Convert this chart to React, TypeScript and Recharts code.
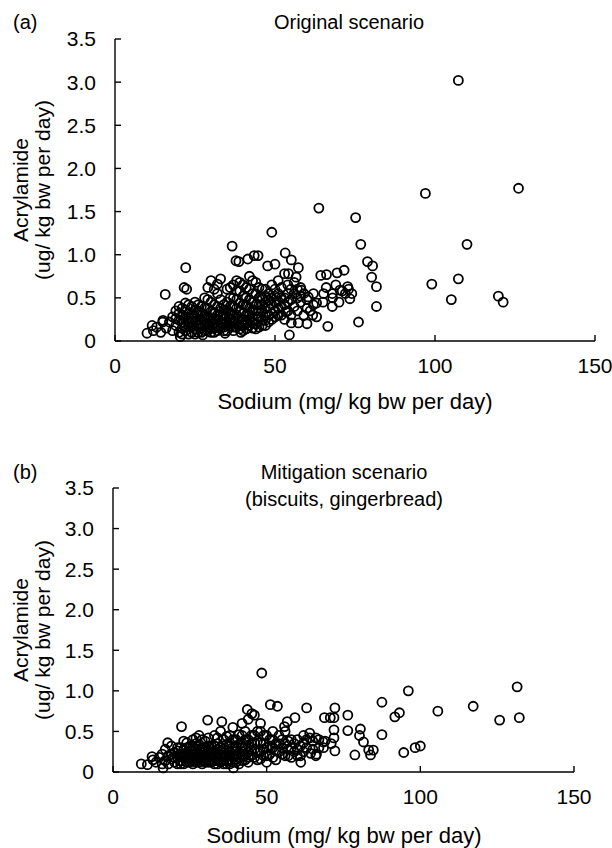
import { ScatterChart, Scatter, XAxis, YAxis, ZAxis } from 'recharts';

type Pt = { x: number; y: number };

const xTicks = [0, 50, 100, 150];
const yTicks = [0, 0.5, 1, 1.5, 2, 2.5, 3, 3.5];

// (a) original scenario: [sodium, acrylamide]
const originalPoints: [number, number][] = [
  [107.3, 3.02], [126.1, 1.77], [97, 1.71], [63.7, 1.54], [75.2, 1.43], [49, 1.26],
  [76.8, 1.12], [110, 1.12], [36.6, 1.1], [53.2, 1.02], [43.5, 0.99], [44.7, 0.99],
  [55.1, 0.94], [38.7, 0.92], [37.8, 0.93], [41.5, 0.95], [78.9, 0.92], [80.5, 0.87],
  [57.3, 0.85], [50, 0.89], [47.7, 0.87], [107.3, 0.72], [99, 0.66], [105.1, 0.48],
  [119.8, 0.52], [121.3, 0.45], [81.7, 0.63], [81.7, 0.4], [80.2, 0.74], [76.1, 0.22],
  [66.5, 0.17], [54.5, 0.07], [22.1, 0.85], [21.6, 0.62], [22.4, 0.6], [15.7, 0.54],
  [10, 0.09], [11.6, 0.18], [14.3, 0.1], [14.9, 0.22], [20.4, 0.05], [27.4, 0.07],
  [34.4, 0.09], [39.3, 0.1], [64.3, 0.76], [66.1, 0.77], [69.4, 0.79], [71.6, 0.82],
  [67.9, 0.55], [70.3, 0.59], [72.7, 0.63], [73.4, 0.49], [67.9, 0.4], [65.2, 0.55],
  [63, 0.44], [60, 0.2], [61.8, 0.3], [57.3, 0.21], [55.1, 0.21], [53.3, 0.34],
  [60.4, 0.51], [58.2, 0.59], [56.6, 0.74], [54.2, 0.78], [74, 0.55], [71, 0.58],
  [12, 0.12], [13, 0.16], [15, 0.24], [16, 0.15], [17, 0.22], [18, 0.12], [18, 0.28],
  [19, 0.18], [19, 0.35], [20, 0.1], [20, 0.24], [20, 0.4], [21, 0.15], [21, 0.3],
  [21, 0.08], [22, 0.2], [22, 0.36], [22, 0.12], [23, 0.27], [23, 0.42], [23, 0.17],
  [24, 0.1], [24, 0.22], [24, 0.32], [25, 0.14], [25, 0.28], [25, 0.45], [26, 0.19],
  [26, 0.35], [26, 0.1], [27, 0.24], [27, 0.4], [27, 0.15], [28, 0.3], [28, 0.12],
  [28, 0.5], [29, 0.2], [29, 0.38], [29, 0.62], [30, 0.15], [30, 0.27], [30, 0.45],
  [30, 0.7], [31, 0.2], [31, 0.33], [31, 0.1], [32, 0.25], [32, 0.4], [32, 0.55],
  [33, 0.15], [33, 0.3], [33, 0.72], [34, 0.2], [34, 0.36], [34, 0.12], [35, 0.28],
  [35, 0.45], [35, 0.6], [36, 0.17], [36, 0.32], [36, 0.5], [37, 0.22], [37, 0.4],
  [37, 0.65], [37, 0.12], [38, 0.3], [38, 0.48], [38, 0.7], [39, 0.18], [39, 0.35],
  [39, 0.58], [40, 0.25], [40, 0.42], [40, 0.65], [40, 0.12], [41, 0.3], [41, 0.5],
  [41, 0.2], [42, 0.38], [42, 0.6], [42, 0.75], [43, 0.15], [43, 0.28], [43, 0.45],
  [43, 0.7], [44, 0.35], [44, 0.55], [44, 0.2], [45, 0.42], [45, 0.62], [45, 0.28],
  [46, 0.5], [46, 0.18], [46, 0.35], [47, 0.6], [47, 0.3], [47, 0.45], [48, 0.4],
  [48, 0.55], [48, 0.22], [49, 0.5], [49, 0.32], [49, 0.65], [50, 0.45], [50, 0.28],
  [50, 0.6], [51, 0.38], [51, 0.55], [51, 0.7], [52, 0.3], [52, 0.5], [52, 0.62],
  [53, 0.42], [53, 0.25], [53, 0.78], [54, 0.55], [54, 0.35], [54, 0.65], [55, 0.48],
  [55, 0.3], [55, 0.6], [56, 0.4], [56, 0.68], [57, 0.5], [57, 0.35], [58, 0.62],
  [58, 0.45], [59, 0.55], [59, 0.3], [60, 0.48], [62, 0.42], [61, 0.35],
  [22, 0.28], [24, 0.18], [26, 0.24], [28, 0.2], [30, 0.22], [32, 0.16], [34, 0.26],
  [36, 0.22], [38, 0.16], [40, 0.18], [42, 0.24], [44, 0.14], [23, 0.22], [27, 0.32],
  [31, 0.26], [35, 0.18], [39, 0.26], [43, 0.36], [47, 0.24], [25, 0.36], [29, 0.12],
  [33, 0.38], [37, 0.3], [41, 0.4],
  [19, 0.26], [20, 0.32], [21, 0.22], [21, 0.38], [22, 0.16], [22, 0.44], [23, 0.32],
  [23, 0.08], [24, 0.27], [24, 0.4], [25, 0.22], [25, 0.08], [26, 0.3], [26, 0.42],
  [27, 0.1], [27, 0.19], [28, 0.25], [28, 0.38], [29, 0.16], [29, 0.28], [29, 0.48],
  [30, 0.1], [30, 0.34], [31, 0.15], [31, 0.42], [31, 0.6], [32, 0.12], [32, 0.3],
  [32, 0.66], [33, 0.22], [33, 0.48], [34, 0.16], [34, 0.3], [34, 0.42], [35, 0.12],
  [35, 0.22], [35, 0.36], [36, 0.26], [36, 0.4], [36, 0.62], [37, 0.16], [37, 0.26],
  [37, 0.5], [38, 0.2], [38, 0.38], [38, 0.58], [39, 0.14], [39, 0.44], [39, 0.68],
  [40, 0.2], [40, 0.32], [40, 0.52], [41, 0.14], [41, 0.24], [41, 0.42], [41, 0.62],
  [42, 0.18], [42, 0.3], [42, 0.48], [43, 0.22], [43, 0.55], [44, 0.26], [44, 0.42],
  [44, 0.68], [45, 0.16], [45, 0.35], [45, 0.5], [46, 0.24], [46, 0.42], [46, 0.6],
  [47, 0.18], [47, 0.38], [47, 0.52], [48, 0.3], [48, 0.47], [49, 0.25], [49, 0.42],
  [50, 0.35], [50, 0.52], [51, 0.3], [51, 0.46], [52, 0.4], [53, 0.5], [54, 0.45],
  [56, 0.55], [58, 0.52], [57, 0.6], [60, 0.38], [62, 0.55], [63, 0.28], [65, 0.45],
  [66, 0.62], [68, 0.5], [69, 0.65], [70, 0.45], [72, 0.55], [73, 0.6],
];

// (b) mitigation scenario (biscuits, gingerbread)
const mitigationPoints: [number, number][] = [
  [48.4, 1.22], [131.5, 1.05], [96.1, 1.0], [87.5, 0.86], [117.2, 0.81], [105.7, 0.75],
  [93.2, 0.73], [91.7, 0.68], [125.8, 0.64], [132.2, 0.67], [51.2, 0.83], [53.5, 0.81],
  [63, 0.79], [72.2, 0.79], [68.8, 0.67], [70.7, 0.67], [71.9, 0.67], [76.4, 0.7],
  [76.4, 0.51], [80.5, 0.53], [80.2, 0.45], [87.5, 0.46], [81.5, 0.37], [83.2, 0.27],
  [84.7, 0.27], [83.8, 0.21], [78.7, 0.21], [72.2, 0.26], [94.6, 0.24], [98.3, 0.3],
  [100, 0.32], [71.9, 0.52], [71.9, 0.42], [59.2, 0.67], [56.7, 0.62], [55.8, 0.56],
  [43.7, 0.77], [45.2, 0.72], [30.8, 0.64], [35.4, 0.62], [22.3, 0.56], [9.2, 0.1],
  [11.2, 0.09], [12.7, 0.19], [17.8, 0.36], [39.2, 0.05], [16.3, 0.05], [61.1, 0.12],
  [66.2, 0.22], [64.3, 0.23], [68.4, 0.37], [68.5, 0.3],
  [13, 0.15], [14, 0.12], [15, 0.18], [16, 0.1], [16, 0.22], [17, 0.14], [17, 0.28],
  [18, 0.1], [18, 0.2], [19, 0.16], [19, 0.32], [20, 0.12], [20, 0.24], [21, 0.1],
  [21, 0.18], [21, 0.3], [22, 0.14], [22, 0.22], [23, 0.1], [23, 0.28], [23, 0.38],
  [24, 0.16], [24, 0.24], [25, 0.12], [25, 0.2], [25, 0.32], [26, 0.1], [26, 0.26],
  [26, 0.4], [27, 0.15], [27, 0.22], [27, 0.35], [28, 0.12], [28, 0.28], [28, 0.45],
  [29, 0.18], [29, 0.3], [29, 0.1], [30, 0.22], [30, 0.38], [30, 0.14], [31, 0.26],
  [31, 0.12], [31, 0.42], [32, 0.2], [32, 0.32], [33, 0.14], [33, 0.26], [33, 0.45],
  [34, 0.18], [34, 0.35], [34, 0.1], [35, 0.22], [35, 0.3], [35, 0.5], [36, 0.14],
  [36, 0.28], [36, 0.4], [37, 0.2], [37, 0.34], [37, 0.1], [38, 0.25], [38, 0.45],
  [38, 0.15], [39, 0.3], [39, 0.2], [39, 0.55], [40, 0.12], [40, 0.26], [40, 0.4],
  [41, 0.18], [41, 0.34], [42, 0.22], [42, 0.45], [42, 0.6], [43, 0.15], [43, 0.3],
  [43, 0.5], [44, 0.25], [44, 0.4], [44, 0.65], [45, 0.2], [45, 0.35], [46, 0.28],
  [46, 0.45], [46, 0.7], [47, 0.15], [47, 0.38], [48, 0.25], [48, 0.5], [48, 0.6],
  [49, 0.2], [49, 0.35], [50, 0.3], [50, 0.45], [50, 0.12], [51, 0.22], [51, 0.4],
  [52, 0.3], [52, 0.5], [53, 0.15], [53, 0.35], [54, 0.25], [54, 0.45], [55, 0.3],
  [55, 0.4], [56, 0.2], [56, 0.5], [57, 0.28], [57, 0.38], [58, 0.3], [58, 0.18],
  [59, 0.35], [59, 0.25], [60, 0.28], [60, 0.4], [61, 0.2], [61, 0.32], [62, 0.36],
  [62, 0.45], [63, 0.3], [64, 0.42], [64, 0.48], [65, 0.38], [66, 0.42], [67, 0.3],
  [69, 0.38], [71, 0.35], [24, 0.3], [26, 0.18], [28, 0.22], [30, 0.3], [32, 0.24],
  [34, 0.28], [36, 0.2], [38, 0.32], [40, 0.2], [42, 0.3], [44, 0.18], [27, 0.28],
  [29, 0.24], [31, 0.18], [33, 0.2], [35, 0.14],
  [19, 0.22], [20, 0.18], [21, 0.26], [22, 0.1], [22, 0.3], [23, 0.18], [23, 0.22],
  [24, 0.12], [24, 0.2], [24, 0.36], [25, 0.16], [25, 0.26], [26, 0.14], [26, 0.22],
  [26, 0.32], [27, 0.12], [27, 0.18], [27, 0.42], [28, 0.16], [28, 0.34], [29, 0.14],
  [29, 0.2], [29, 0.4], [30, 0.12], [30, 0.18], [30, 0.26], [31, 0.14], [31, 0.22],
  [31, 0.32], [32, 0.12], [32, 0.16], [32, 0.28], [33, 0.1], [33, 0.18], [33, 0.32],
  [34, 0.14], [34, 0.22], [34, 0.42], [35, 0.12], [35, 0.18], [35, 0.26], [36, 0.1],
  [36, 0.18], [36, 0.32], [37, 0.14], [37, 0.26], [37, 0.44], [38, 0.1], [38, 0.2],
  [38, 0.36], [39, 0.12], [39, 0.26], [39, 0.4], [40, 0.16], [40, 0.32], [41, 0.1],
  [41, 0.24], [41, 0.46], [42, 0.14], [42, 0.36], [43, 0.2], [43, 0.4], [44, 0.12],
  [44, 0.32], [45, 0.26], [45, 0.45], [46, 0.18], [46, 0.36], [47, 0.24], [47, 0.5],
  [48, 0.16], [48, 0.36], [49, 0.28], [49, 0.45], [50, 0.2], [51, 0.32], [52, 0.18],
  [52, 0.4], [53, 0.26], [54, 0.35], [55, 0.22], [56, 0.35], [57, 0.2], [58, 0.4],
  [60, 0.2], [62, 0.25], [63, 0.4], [65, 0.28], [66, 0.2], [67, 0.4],
];

const FONT = '"Liberation Sans", Arial, Helvetica, sans-serif';

const toPts = (arr: [number, number][]): Pt[] => arr.map(([x, y]) => ({ x, y }));
const fmtY = (v: number) => (v === 0 ? '0' : v.toFixed(1));

interface PanelProps {
  data: Pt[];
  height: number;
  margin: { top: number; right: number; bottom: number; left: number };
}

function Panel({ data, height, margin }: PanelProps) {
  const axisStyle = { stroke: '#000', strokeWidth: 1.4 };
  const tickFont = { fill: '#000', fontSize: 21, fontFamily: FONT };
  return (
    <ScatterChart width={612} height={height} margin={margin}>
      <XAxis
        type="number"
        dataKey="x"
        domain={[0, 150]}
        ticks={xTicks}
        interval={0}
        height={30}
        axisLine={axisStyle}
        tickLine={axisStyle}
        tickSize={-6}
        tickMargin={23}
        tick={tickFont}
      />
      <YAxis
        type="number"
        dataKey="y"
        domain={[0, 3.5]}
        ticks={yTicks}
        interval={0}
        width={60}
        axisLine={axisStyle}
        tickLine={axisStyle}
        tickSize={-6}
        tickMargin={25}
        tickFormatter={fmtY}
        tick={tickFont}
      />
      <ZAxis range={[80, 80]} />
      <Scatter
        data={data}
        shape="circle"
        fill="none"
        stroke="#000"
        strokeWidth={1.8}
        isAnimationActive={false}
      />
    </ScatterChart>
  );
}

export default function App() {
  const text = { fontFamily: FONT, fill: '#000' } as const;
  return (
    <div style={{ position: 'absolute', left: 0, top: 0, width: 612, height: 848, background: '#fff' }}>
      <div style={{ position: 'absolute', left: 0, top: 0 }}>
        <Panel data={toPts(originalPoints)} height={424} margin={{ top: 39, right: 17, bottom: 53, left: 55 }} />
      </div>
      <div style={{ position: 'absolute', left: 0, top: 424 }}>
        <Panel data={toPts(mitigationPoints)} height={424} margin={{ top: 64, right: 38, bottom: 46, left: 53 }} />
      </div>
      <svg width={612} height={848} style={{ position: 'absolute', left: 0, top: 0, pointerEvents: 'none' }}>
        {/* panel (a) */}
        <text x={13} y={22} dominantBaseline="central" fontSize={20} {...text}>(a)</text>
        <text x={349} y={22} dominantBaseline="central" textAnchor="middle" fontSize={20} {...text}>Original scenario</text>
        <text x={355} y={401} dominantBaseline="central" textAnchor="middle" fontSize={22} {...text}>Sodium (mg/ kg bw per day)</text>
        <g transform="translate(20,190) rotate(-90)">
          <text x={0} y={0} dominantBaseline="central" textAnchor="middle" fontSize={21} {...text}>Acrylamide</text>
          <text x={0} y={22} dominantBaseline="central" textAnchor="middle" fontSize={21} {...text}>(ug/ kg bw per day)</text>
        </g>
        {/* panel (b) */}
        <text x={13} y={472} dominantBaseline="central" fontSize={20} {...text}>(b)</text>
        <text x={344} y={472} dominantBaseline="central" textAnchor="middle" fontSize={20} {...text}>Mitigation scenario</text>
        <text x={344} y={499} dominantBaseline="central" textAnchor="middle" fontSize={20} {...text}>(biscuits, gingerbread)</text>
        <text x={344} y={835} dominantBaseline="central" textAnchor="middle" fontSize={22} {...text}>Sodium (mg/ kg bw per day)</text>
        <g transform="translate(20,630) rotate(-90)">
          <text x={0} y={0} dominantBaseline="central" textAnchor="middle" fontSize={21} {...text}>Acrylamide</text>
          <text x={0} y={22} dominantBaseline="central" textAnchor="middle" fontSize={21} {...text}>(ug/ kg bw per day)</text>
        </g>
      </svg>
    </div>
  );
}
